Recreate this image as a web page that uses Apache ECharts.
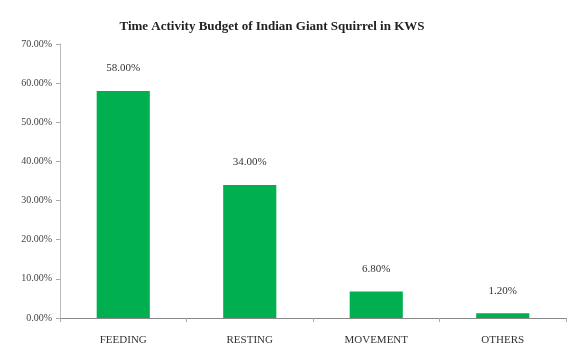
<!DOCTYPE html>
<html><head><meta charset="utf-8">
<script src="https://cdn.jsdelivr.net/npm/echarts@6/dist/echarts.min.js"></script>
<style>html,body{margin:0;padding:0;background:#fff}#c{width:567px;height:351px}</style>
</head><body><div id="c"></div>
<script>
const categories = ["FEEDING", "RESTING", "MOVEMENT", "OTHERS"];
const values = [58.0, 34.0, 6.8, 1.2];
const titleText = "Time Activity Budget of Indian Giant Squirrel in KWS";
const chart = echarts.init(document.getElementById('c'));
chart.setOption({
  animation: false,
  title: {
    text: titleText, top: 15, left: 267, textAlign: 'center',
    textStyle: {fontFamily: 'Liberation Serif', fontWeight: 'bold', fontSize: 13, color: '#222'}
  },
  grid: {left: 60, right: 1, top: 44, bottom: 33},
  xAxis: {
    type: 'category', data: categories,
    axisLine: {lineStyle: {color: '#888', width: 1}},
    axisTick: {show: true, alignWithLabel: false, length: 4, lineStyle: {color: '#aaa'}},
    axisLabel: {fontFamily: 'Liberation Serif', fontSize: 11, color: '#333', margin: 17}
  },
  yAxis: {
    type: 'value', min: 0, max: 70, interval: 10,
    axisLine: {show: true, lineStyle: {color: '#bbb'}},
    axisTick: {show: true, length: 4, lineStyle: {color: '#aaa'}},
    splitLine: {show: false},
    axisLabel: {fontFamily: 'Liberation Serif', fontSize: 10, color: '#444', margin: 8,
      formatter: v => v.toFixed(2) + '%'}
  },
  series: [{
    type: 'bar', data: values, barWidth: '42%',
    itemStyle: {color: '#00B050'},
    label: {show: true, position: 'top', distance: 17,
      fontFamily: 'Liberation Serif', fontSize: 11, color: '#333',
      formatter: p => p.value.toFixed(2) + '%'}
  }]
});
</script></body></html>
